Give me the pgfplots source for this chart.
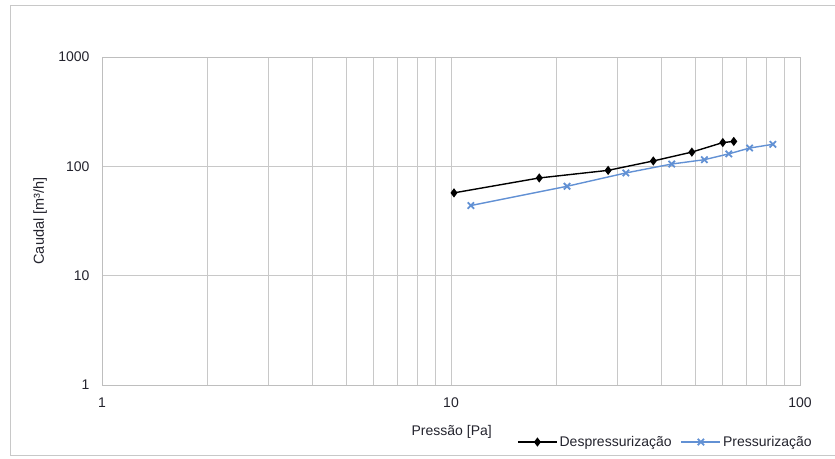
\documentclass[border=0pt]{standalone}
\usepackage{pgfplots}
\pgfplotsset{compat=1.18}
\usepackage{fontspec}
\setmainfont{Liberation Sans}
\definecolor{gridc}{RGB}{200,200,200}
\definecolor{framec}{RGB}{190,190,190}
\definecolor{bluec}{RGB}{98,145,212}
\definecolor{txt}{RGB}{35,35,45}
\begin{document}
\begin{tikzpicture}[x=1pt,y=1pt]
\useasboundingbox (0,0) rectangle (835,458);
\draw[color=gridc,line width=0.8pt] (10,3) rectangle (845,453);
\begin{axis}[
  at={(102pt,73pt)}, anchor=south west,
  scale only axis, width=698pt, height=328pt,
  xmode=log, ymode=log,
  xmin=1, xmax=100, ymin=1, ymax=1000,
  log basis x=10, log basis y=10,
  xtick={1,10,100}, xticklabels={1,10,100},
  ytick={1,10,100,1000}, yticklabels={1,10,100,1000},
  minor xtick={2,3,4,5,6,7,8,9,20,30,40,50,60,70,80,90},
  minor ytick={},
  xmajorgrids, xminorgrids, ymajorgrids,
  grid style={color=gridc, line width=0.8pt},
  minor grid style={color=gridc, line width=0.8pt},
  axis line style={color=framec, line width=0.8pt},
  major tick length=0pt, minor tick length=0pt,
  tick label style={font=\fontsize{14}{16}\selectfont, text=txt},
  xticklabel style={yshift=-9pt},
  yticklabel style={xshift=-9pt},
  xlabel={Pressão [Pa]},
  xlabel style={at={(axis description cs:0.501,-0.143)}, anchor=center, font=\fontsize{14}{16}\selectfont, text=txt},
  ylabel={Caudal [m³/h]},
  ylabel style={at={(axis description cs:-0.0888,0.5)}, anchor=center, rotate=0, font=\fontsize{14.5}{16}\selectfont, text=txt},
  legend columns=2,
  legend style={draw=none, fill=none, at={(axis description cs:0.5946,-0.1738)}, anchor=west,
    font=\fontsize{14}{16}\selectfont, text=txt, inner sep=0pt,
    /tikz/every even column/.append style={column sep=7pt}},
  legend cell align=left,
  legend image code/.code={\draw[#1, mark repeat=2, mark phase=2] plot coordinates {(0pt,0pt) (19.5pt,0pt) (39pt,0pt)};},
]
\addplot[black, line width=1.4pt, mark=diamond*, mark size=3.5pt, mark options={solid}] coordinates {
(10.2,57.2) (17.9,78.3) (28.2,91.9) (38.0,112) (49.0,135) (60.1,165) (64.6,169)
};
\addlegendentry{Despressurização}
\addplot[bluec, line width=1.4pt, mark=x, mark size=4.5pt, mark options={solid, line width=1.8pt}] coordinates {
(11.4,43.8) (21.5,65.7) (31.7,87) (42.9,105) (53.2,115) (62.5,130) (71.7,147) (83.6,159)
};
\addlegendentry{Pressurização}
\end{axis}
\end{tikzpicture}
\end{document}
